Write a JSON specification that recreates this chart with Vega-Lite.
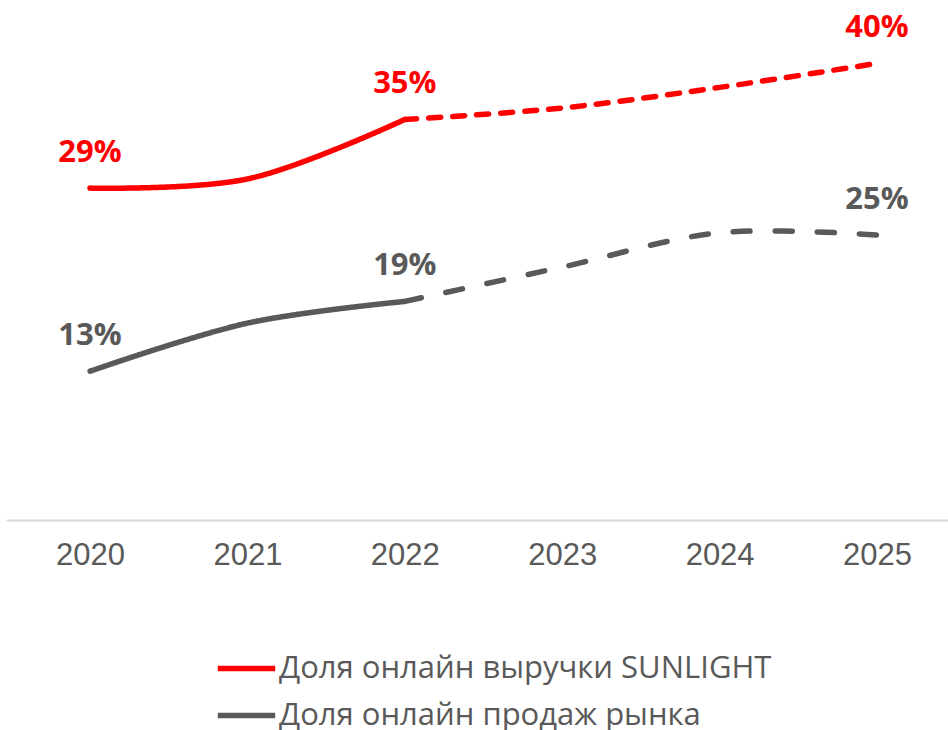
{
  "$schema": "https://vega.github.io/schema/vega-lite/v6.json",
  "width": 942,
  "height": 515,
  "autosize": {"type": "none"},
  "padding": {"left": 6, "top": 5, "right": 0, "bottom": 210},
  "background": "white",
  "config": {"view": {"stroke": null}},
  "data": {"values": [
    {"series": "Доля онлайн выручки SUNLIGHT", "year": 2020, "value": 29, "seg": "факт", "label": "29%"},
    {"series": "Доля онлайн выручки SUNLIGHT", "year": 2021, "value": 29.8, "seg": "факт", "label": ""},
    {"series": "Доля онлайн выручки SUNLIGHT", "year": 2022, "value": 35, "seg": "факт", "label": "35%"},
    {"series": "Доля онлайн выручки SUNLIGHT", "year": 2022, "value": 35, "seg": "прогноз", "label": ""},
    {"series": "Доля онлайн выручки SUNLIGHT", "year": 2023, "value": 36.0, "seg": "прогноз", "label": ""},
    {"series": "Доля онлайн выручки SUNLIGHT", "year": 2024, "value": 37.8, "seg": "прогноз", "label": ""},
    {"series": "Доля онлайн выручки SUNLIGHT", "year": 2025, "value": 39.9, "seg": "прогноз", "label": "40%"},
    {"series": "Доля онлайн продаж рынка", "year": 2020, "value": 13, "seg": "факт", "label": "13%"},
    {"series": "Доля онлайн продаж рынка", "year": 2021, "value": 17.2, "seg": "факт", "label": ""},
    {"series": "Доля онлайн продаж рынка", "year": 2022, "value": 19.1, "seg": "факт", "label": "19%"},
    {"series": "Доля онлайн продаж рынка", "year": 2022, "value": 19.1, "seg": "прогноз", "label": ""},
    {"series": "Доля онлайн продаж рынка", "year": 2023, "value": 22.1, "seg": "прогноз", "label": ""},
    {"series": "Доля онлайн продаж рынка", "year": 2024, "value": 25.1, "seg": "прогноз", "label": ""},
    {"series": "Доля онлайн продаж рынка", "year": 2025, "value": 24.9, "seg": "прогноз", "label": "25%"}
  ]},
  "encoding": {
    "x": {
      "field": "year", "type": "quantitative",
      "scale": {"domain": [2019.466, 2025.451], "nice": false, "zero": false},
      "axis": {
        "values": [2020, 2021, 2022, 2023, 2024, 2025], "format": "d", "title": null,
        "grid": false, "ticks": false, "domainColor": "#d9d9d9", "domainWidth": 2,
        "labelFont": "Liberation Sans", "labelFontSize": 31, "labelColor": "#595959",
        "labelPadding": 20, "labelFlush": false
      }
    },
    "y": {
      "field": "value", "type": "quantitative",
      "scale": {"domain": [0, 45], "nice": false},
      "axis": null
    },
    "color": {
      "field": "series", "type": "nominal",
      "scale": {"domain": ["Доля онлайн выручки SUNLIGHT", "Доля онлайн продаж рынка"], "range": ["#ff0000", "#595959"]},
      "legend": {
        "title": null, "orient": "none", "legendX": 209, "legendY": 632, "direction": "vertical",
        "symbolType": "stroke", "symbolSize": 3300, "symbolStrokeWidth": 5.5,
        "labelFont": "Open Sans", "labelFontSize": 31, "labelColor": "#595959",
        "labelOffset": 1, "rowPadding": -3, "labelLimit": 800
      }
    }
  },
  "layer": [
    {
      "transform": [{"filter": "datum.series === 'Доля онлайн выручки SUNLIGHT'"}],
      "mark": {"type": "line", "interpolate": "catmull-rom", "strokeWidth": 5.5, "strokeCap": "round"},
      "encoding": {
        "strokeDash": {
          "field": "seg", "type": "nominal",
          "scale": {"domain": ["факт", "прогноз"], "range": [[1, 0], [12, 12]]},
          "legend": null
        }
      }
    },
    {
      "transform": [{"filter": "datum.series === 'Доля онлайн продаж рынка'"}],
      "mark": {"type": "line", "interpolate": "catmull-rom", "strokeWidth": 5.5, "strokeCap": "round"},
      "encoding": {
        "strokeDash": {
          "field": "seg", "type": "nominal",
          "scale": {"domain": ["факт", "прогноз"], "range": [[1, 0], [17, 25]]},
          "legend": null
        }
      }
    },
    {
      "transform": [{"filter": "datum.label !== ''"}],
      "mark": {"type": "text", "font": "Open Sans", "fontWeight": "bold", "fontSize": 31, "baseline": "alphabetic", "align": "center", "dy": -26},
      "encoding": {
        "text": {"field": "label"}
      }
    }
  ],
  "resolve": {"scale": {"strokeDash": "independent"}}
}
